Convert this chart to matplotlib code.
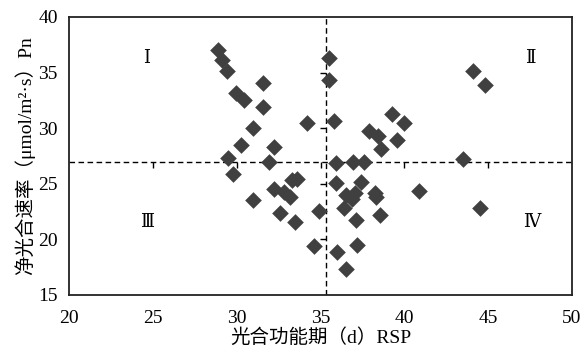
import matplotlib
matplotlib.use("Agg")
import matplotlib.pyplot as plt

plt.rcParams['font.family'] = ['Liberation Serif', 'DejaVu Serif', 'Noto Sans CJK SC']

# Data: photosynthetic function period (d) vs net photosynthetic rate
rsp = [28.9, 29.15, 29.4, 31.6, 29.95, 30.45, 31.6, 34.2, 31.0, 30.25, 32.2, 29.5, 31.9,
       35.5, 35.5, 35.8,
       39.25, 40.0, 37.9, 38.4, 39.55, 38.6, 44.1, 44.8, 43.5,
       35.9, 36.95, 37.6,
       29.8, 33.3, 33.6, 32.2, 32.8, 33.2, 31.0, 32.6, 33.5, 34.9, 34.6,
       35.95, 37.4, 36.5, 37.05, 36.85, 38.25, 38.3, 40.85, 36.4, 37.1, 38.55, 37.2, 36.0, 36.55, 44.5]
pn = [37.0, 36.1, 35.1, 34.1, 33.2, 32.5, 31.9, 30.5, 30.05, 28.45, 28.3, 27.35, 26.95,
      36.35, 34.35, 30.65,
      31.3, 30.45, 29.75, 29.3, 28.9, 28.15, 35.1, 33.85, 27.25,
      26.9, 27.0, 27.0,
      25.9, 25.35, 25.45, 24.55, 24.27, 23.8, 23.55, 22.4, 21.55, 22.57, 19.4,
      25.05, 25.15, 24.0, 24.15, 23.65, 24.2, 23.77, 24.35, 22.85, 21.75, 22.15, 19.5, 18.85, 17.3, 22.8]

x_cross = 35.3
y_cross = 27.0
x_ticks = [20, 25, 30, 35, 40, 45, 50]
y_ticks = [15, 20, 25, 30, 35, 40]
quadrant_labels = ['Ⅰ', 'Ⅱ', 'Ⅲ', 'Ⅳ']
quadrant_pos = [(24.65, 36.3), (47.5, 36.3), (24.65, 21.5), (47.6, 21.5)]

fig = plt.figure(figsize=(5.87, 3.54), dpi=100)
ax = fig.add_axes([0.1175, 0.1667, 0.857, 0.7853])

ax.scatter(rsp, pn, marker='D', s=72, color='#404040', linewidths=0, zorder=3)

ax.axvline(x_cross, color='black', lw=1.0, ls=(0, (4, 2.5)), zorder=2)
ax.axhline(y_cross, color='black', lw=1.0, ls=(0, (4, 2.5)), zorder=2)

# tick marks on the crossing axes
xt_inner = [t for t in x_ticks if 20 < t < 50]
yt_inner = [t for t in y_ticks if 15 < t < 40]
ax.plot(xt_inner, [y_cross] * len(xt_inner), ls='none', marker=3, ms=4,
        mew=1.0, color='black', zorder=2)
ax.plot([x_cross] * len(yt_inner), yt_inner, ls='none', marker=0, ms=4,
        mew=1.0, color='black', zorder=2)

ax.set_xlim(20, 50)
ax.set_ylim(15, 40)
ax.set_xticks(x_ticks)
ax.set_yticks(y_ticks)
ax.tick_params(axis='x', length=0, labelsize=14, pad=11)
ax.tick_params(axis='y', length=0, labelsize=14, pad=8)
for s in ax.spines.values():
    s.set_linewidth(1.3)
    s.set_color('#222222')

for lab, (qx, qy) in zip(quadrant_labels, quadrant_pos):
    ax.text(qx, qy, lab, fontsize=13, ha='center', va='center')

ax.set_xlabel('光合功能期（d）RSP', fontsize=14, labelpad=1)
ax.set_ylabel('净光合速率（μmol/m²·s）Pn', fontsize=14, labelpad=2)

fig.savefig('out.png', dpi=100)
